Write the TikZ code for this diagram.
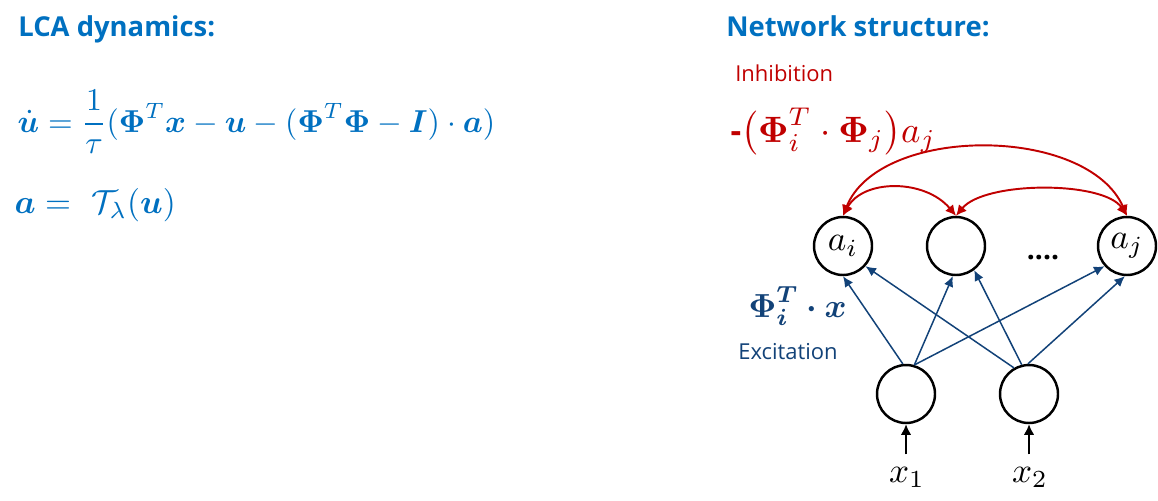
\documentclass[tikz,border=0pt]{standalone}
\usepackage{amsmath,bm}
\usepackage{fontspec}
\setsansfont{Open Sans}
\usetikzlibrary{arrows.meta,positioning}
\definecolor{lcablue}{RGB}{0,112,192}
\definecolor{excblue}{RGB}{18,66,120}
\definecolor{inhred}{RGB}{192,0,0}
\tikzset{
  neuron/.style={circle,draw=black,line width=1.4pt,minimum size=1.16cm,inner sep=0pt},
  title/.style={anchor=base west,inner sep=0pt,text=lcablue,font=\sffamily\bfseries\fontsize{15.6}{19}\selectfont},
  mathtext/.style={anchor=base west,inner sep=0pt,scale=1.9},
  excite/.style={excblue,line width=0.85pt,-{Latex[length=6pt,width=5.5pt]}},
  inhibit/.style={inhred,line width=1.1pt,{Latex[length=6pt,width=6pt]}-{Latex[length=6pt,width=6pt]}},
  inarrow/.style={black,line width=1.1pt,-{Latex[length=6pt,width=6pt]}}
}
\begin{document}
\begin{tikzpicture}[x=0.02cm,y=0.02cm]
  \useasboundingbox (0,0) rectangle (1158,-500);

  % left side: dynamics
  \node[title] (lcatitle) at (18,-37) {LCA dynamics:};
  \node[mathtext,text=lcablue,scale=0.95] (udot) at (17,-132)
     {$\dot{\bm u}=\dfrac{1}{\tau}(\bm\Phi^T\bm x-\bm u-(\bm\Phi^T\bm\Phi-\bm I)\cdot\bm a)$};
  \node[mathtext,text=lcablue] (aeq) at (14,-213)
     {$\bm a=\ \mathcal{T}_\lambda(\bm u)$};

  % right side: network
  \node[title] (nettitle) at (726,-37) {Network structure:};
  \node[anchor=base west,text=inhred,inner sep=0pt,font=\sffamily\fontsize{12.5}{15}\selectfont] (inhlabel) at (735,-82) {Inhibition};
  \node[mathtext,text=inhred,scale=1.1] (inhform) at (730,-142)
     {{\sffamily\bfseries\small -}$\bigl(\bm\Phi_i^T\cdot\bm\Phi_j\bigr)a_j$};
  \node[mathtext,text=excblue] (excform) at (748,-317)
     {$\bm{\Phi_i^T\cdot x}$};
  \node[anchor=base west,text=excblue,inner sep=0pt,font=\sffamily\fontsize{12.5}{15}\selectfont] (exclabel) at (738,-359) {Excitation};

  \node[neuron] (ai) at (843,-246) {\scalebox{2}{$a_i$}};
  \node[neuron] (mid) at (956,-246) {};
  \node[neuron] (aj) at (1127,-246) {\scalebox{2}{$a_j$}};
  \node[font=\sffamily\bfseries\fontsize{16}{19}\selectfont] (dots) at (1043,-258) {....};

  \node[neuron] (x1) at (906,-394) {};
  \node[neuron] (x2) at (1029,-394) {};
  \node[anchor=base,scale=2] (lx1) at (907,-482) {$x_1$};
  \node[anchor=base,scale=2] (lx2) at (1030,-482) {$x_2$};

  % inputs
  \draw[inarrow] (lx1.north -| x1) -- (x1.south);
  \draw[inarrow] (lx2.north -| x2) -- (x2.south);

  % excitation
  \draw[excite] (x1.96) -- (ai.south);
  \draw[excite] (x1.74) -- (mid.264);
  \draw[excite] (x1.74) -- (aj.222);
  \draw[excite] (x2.120) -- (ai.318);
  \draw[excite] (x2.104) -- (mid.307);
  \draw[excite] (x2.92) -- (aj.266);

  % inhibition
  \draw[inhibit] (ai.north) .. controls +(36,91) and +(-40,91) .. (aj.north);
  \draw[inhibit] (ai.north) .. controls +(20,37) and +(-31,37) .. (mid.north);
  \draw[inhibit] (mid.north) .. controls +(29,35) and +(-23,35) .. (aj.north);
\end{tikzpicture}
\end{document}
